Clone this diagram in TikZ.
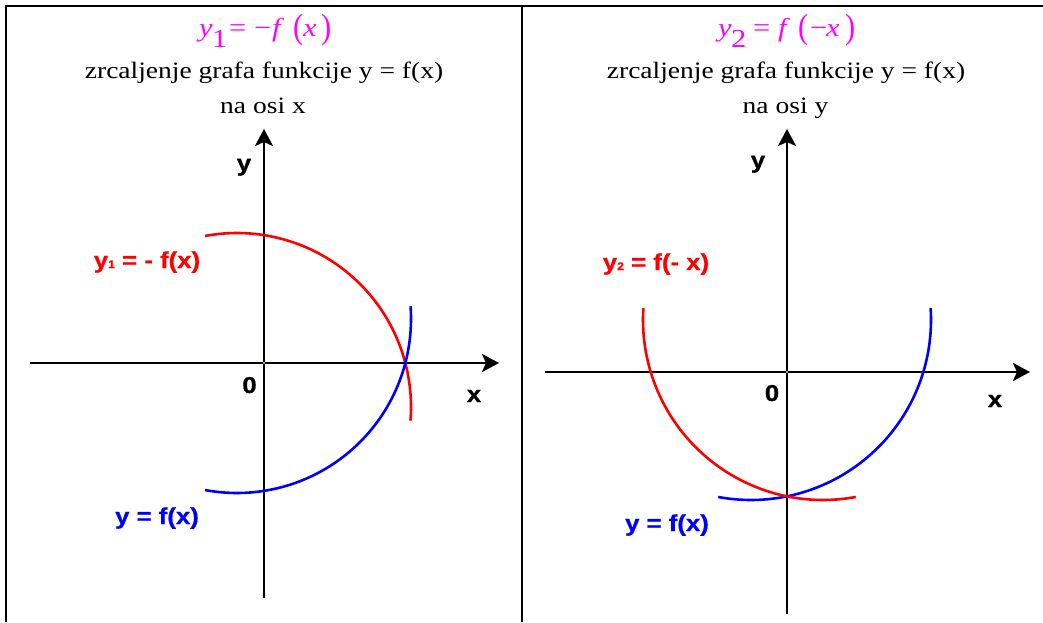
\documentclass[tikz,border=0pt]{standalone}
\usepackage{fontspec}
\usepackage{graphicx}
\setmainfont{Liberation Serif}[FakeStretch=1.17]
\newfontfamily\labfont{Liberation Sans}[FakeStretch=1.12, BoldFeatures={FakeStretch=1.12, FakeBold=0.8}]
\usetikzlibrary{arrows.meta}
\definecolor{mag}{RGB}{255,0,255}
\definecolor{cred}{RGB}{255,0,0}
\definecolor{cblue}{RGB}{0,0,255}
\newcommand\bigpar[1]{\raisebox{-0.05em}{\scalebox{1}[1.35]{#1}}}
\newcommand\gl[2]{\makebox[#1pt][l]{#2}}
\tikzset{
 axisarrow/.style={line width=2.8pt, -{Stealth[length=17pt,width=18pt,inset=4pt]}},
 curve/.style={line width=2.6pt},
 lab/.style={font=\labfont\bfseries\fontsize{23}{26}\selectfont, anchor=base, inner sep=0pt},
 txt/.style={font=\fontsize{23.5}{28}\selectfont, anchor=base, inner sep=0pt},
 ttl/.style={font=\fontsize{26}{30}\selectfont, anchor=base west, inner sep=0pt, text=mag},
 framestyle/.style={line width=2.6pt}
}
\begin{document}
\begin{tikzpicture}[x=1pt,y=1pt]
\useasboundingbox (0,0) rectangle (1043,622);
% frame
\coordinate (ftl) at (6,616);
\coordinate (fbl) at (6,0);
\coordinate (ftr) at (1043,616);
\coordinate (fmt) at (522,616);
\coordinate (fmb) at (522,0);
\draw[framestyle] (fbl) -- (ftl) -- (ftr);
\draw[framestyle] (fmt) -- (fmb);

% ---------- left panel ----------
\node[ttl] (t1) at (199,585) {\gl{13}{\textit{y}}\gl{17}{\raisebox{-11pt}{1}}\gl{25}{=}\gl{18}{−}\gl{21}{\textit{f}}\gl{10}{\bigpar{(}}\gl{18}{\textit{x}}\bigpar{)}};
\node[txt] (s1) at (264,543) {zrcaljenje grafa funkcije y = f(x)};
\node[txt] (n1) at (263,508) {na osi x};

\coordinate (ly0) at (264,24);
\coordinate (ly1) at (264,493);
\coordinate (lx0) at (30,259);
\coordinate (lx1) at (499,259);
\draw[axisarrow] (ly0) -- (ly1);
\draw[axisarrow] (lx0) -- (lx1);
\fill[yellow] (264,259) circle (1.2);

\draw[curve, cred] ([shift={(237,215)}]100.6:174) arc[start angle=100.6, end angle=-4.5, radius=174];
\draw[curve, cblue] ([shift={(237,303)}]259.4:174) arc[start angle=259.4, end angle=364.2, radius=174];

\node[lab] (ly) at (244,451) {y};
\node[lab] (l0) at (249.5,229) {0};
\node[lab] (lx) at (474,220) {x};
\node[lab, text=cred] (lr) at (147,354) {y\raisebox{0pt}{\fontsize{11}{12}\selectfont 1} = - f(x)};
\node[lab, text=cblue] (lb) at (157,98) {y = f(x)};

% ---------- right panel ----------
\node[ttl] (t2) at (718,585) {\gl{13}{\textit{y}}\gl{22}{\raisebox{-11pt}{2}}\gl{25}{=}\gl{20}{\textit{f}}\gl{12}{\bigpar{(}}\gl{16}{−}\gl{19}{\textit{x}}\bigpar{)}};
\node[txt] (s2) at (786,543) {zrcaljenje grafa funkcije y = f(x)};
\node[txt] (n2) at (785.5,508) {na osi y};

\coordinate (ry0) at (787,8);
\coordinate (ry1) at (787,493);
\coordinate (rx0) at (545,250);
\coordinate (rx1) at (1030,250);
\draw[axisarrow] (ry0) -- (ry1);
\draw[axisarrow] (rx0) -- (rx1);
\fill[yellow] (787,250) circle (1.2);

\draw[curve, cblue] ([shift={(751,302)}]259.5:180) arc[start angle=259.5, end angle=363.8, radius=180];
\draw[curve, cred] ([shift={(823,302)}]176.2:180) arc[start angle=176.2, end angle=280.5, radius=180];

\node[lab] (ry) at (758,454) {y};
\node[lab] (r0) at (772,221) {0};
\node[lab] (rx) at (995,215) {x};
\node[lab, text=cred] (rr) at (656,352) {y\raisebox{0pt}{\fontsize{11}{12}\selectfont 2} = f(- x)};
\node[lab, text=cblue] (rb) at (667,91) {y = f(x)};
\end{tikzpicture}
\end{document}
